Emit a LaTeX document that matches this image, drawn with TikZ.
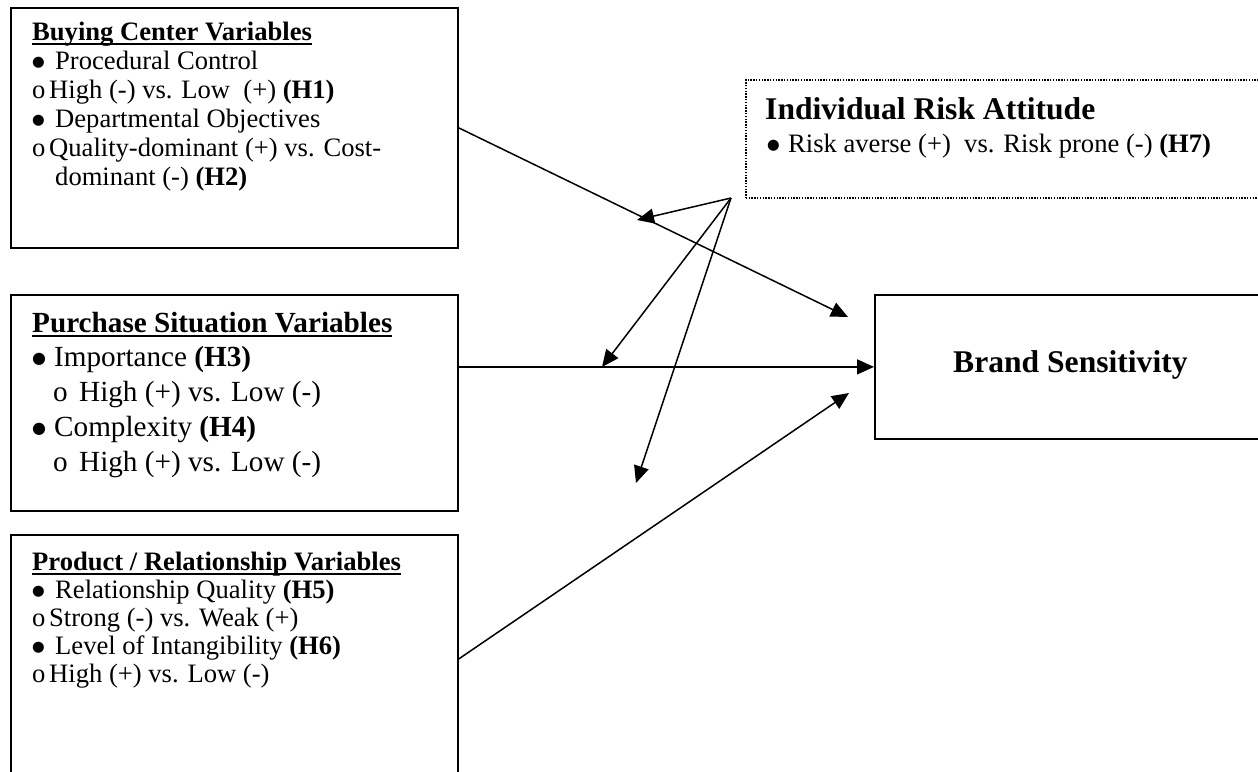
\documentclass[tikz,border=0pt]{standalone}
\usepackage{fontspec}
\setmainfont{Liberation Serif}
\newfontfamily\dejavu{DejaVu Sans}
\usetikzlibrary{arrows.meta}
\newsavebox\ulbox
\newcommand\ulbf[1]{\sbox\ulbox{\bfseries #1}\rlap{\rule[-4.5pt]{\wd\ulbox}{2pt}}\usebox\ulbox}
\newcommand\bodyfont{\fontsize{26.6}{29}\selectfont}
\newcommand\bodyfontc{\fontsize{26.6}{28}\selectfont}
\newcommand\bigbodyfont{\fontsize{29.2}{34.7}\selectfont}
\newcommand\headfont{\fontsize{31.6}{34}\selectfont\bfseries}
\newcommand\bdot{\raisebox{2.8pt}{\dejavu\fontsize{14.5}{12}\selectfont ●}}
\newcommand\bdotb{\raisebox{3.1pt}{\dejavu\fontsize{16}{12}\selectfont ●}}
\newcommand\bul{\makebox[23pt][l]{\bdot}}
\newcommand\bulb{\makebox[22pt][l]{\bdotb}}
\newcommand\subb{\makebox[17pt][l]{o}}
\newcommand\subbb{\hspace*{21pt}\makebox[26pt][l]{o}}
\newcommand\fst{\rule{0pt}{22pt}}
\tikzset{
  box/.style={draw, line width=1.8pt, rectangle, inner sep=0pt, anchor=north west},
  dotbox/.style={draw, line width=1.5pt, dash pattern=on 1.4pt off 1.4pt, rectangle, inner sep=0pt, anchor=north west},
  txt/.style={inner sep=0pt, anchor=north west, align=left, font=\bodyfont},
  conn/.style={line width=1.5pt, -{Triangle[length=17pt,width=15pt]}}
}
\begin{document}
\begin{tikzpicture}[x=1pt,y=-1pt]
\useasboundingbox (0,0) rectangle (1258,771);
\clip (0,0) rectangle (1258,771);
\fill[white] (0,0) rectangle (1258,771);
% boxes
\node[box, minimum width=447pt, minimum height=240pt] (b1) at (10,7) {};
\node[box, minimum width=447pt, minimum height=216pt] (b2) at (10,294) {};
\node[box, minimum width=447pt, minimum height=248pt] (b3) at (10,534) {};
\node[box, minimum width=430pt, minimum height=144pt] (bs) at (874,294) {};
\node[dotbox, minimum width=560pt, minimum height=118pt] (ra) at (745,79) {};
% texts
\node[txt] (t1) at (32,18) {\fst\ulbf{Buying Center Variables}\\
\bul Procedural Control\\
\subb High (-) vs. Low\ \ (+) \textbf{(H1)}\\
\bul Departmental Objectives\\
\subb Quality-dominant (+) vs. Cost-\\
\hspace*{23pt}dominant (-) \textbf{(H2)}};
\node[txt, font=\bigbodyfont] (t2) at (32,308) {\rule{0pt}{24pt}\ulbf{Purchase Situation Variables}\\
\bulb Importance \textbf{(H3)}\\
\subbb High (+) vs. Low (-)\\
\bulb Complexity \textbf{(H4)}\\
\subbb High (+) vs. Low (-)};
\node[txt, font=\bodyfontc] (t3) at (32,548) {\fst\ulbf{Product / Relationship Variables}\\
\bul Relationship Quality \textbf{(H5)}\\
\subb Strong (-) vs. Weak (+)\\
\bul Level of Intangibility \textbf{(H6)}\\
\subb High (+) vs. Low (-)};
\node[inner sep=0pt, anchor=base west, font=\headfont] (rt) at (765,119) {Individual Risk Attitude};
\node[inner sep=0pt, anchor=base west, font=\bodyfont] (rb) at (767,152) {\makebox[21pt][l]{\bdot}Risk averse (+)\ \ vs. Risk prone (-) \textbf{(H7)}};
\node[inner sep=0pt, anchor=base west, font=\headfont] (bst) at (953,372) {Brand Sensitivity};
% connector points
\coordinate (tip1) at (848,317);
\coordinate (tip3) at (849,393);
\coordinate (src) at (731,198);
\coordinate (m1) at (637,220);
\coordinate (m2) at (602,367);
\coordinate (m3) at (636,483);
% connectors
\draw[conn] (b1.east) -- (tip1);
\draw[conn] (b2.east |- bs.west) -- (bs.west);
\draw[conn] (b3.east) -- (tip3);
\draw[conn] (src) -- (m1);
\draw[conn] (src) -- (m2);
\draw[conn] (src) -- (m3);
\end{tikzpicture}
\end{document}
